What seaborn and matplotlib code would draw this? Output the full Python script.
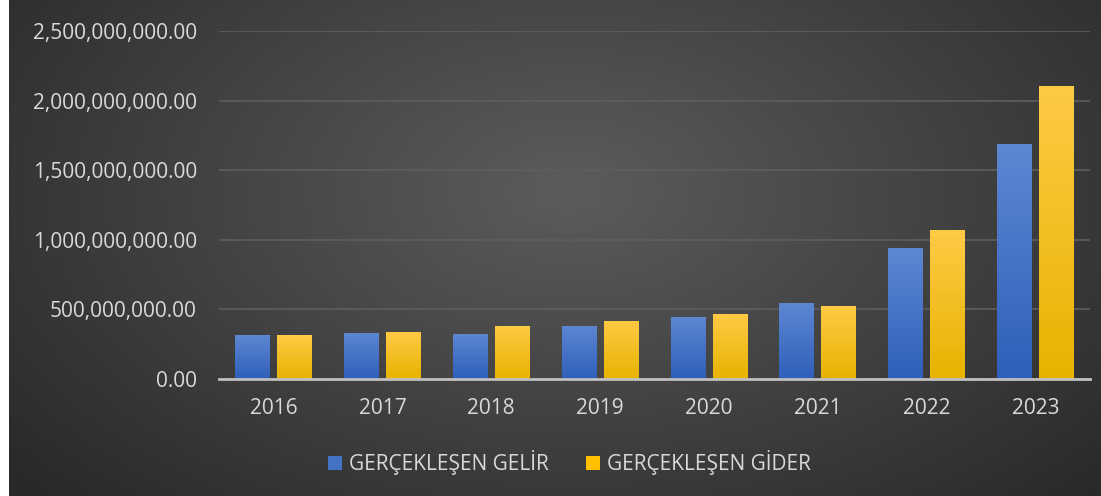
import numpy as np
import pandas as pd
import matplotlib.pyplot as plt
import seaborn as sns
from matplotlib.colors import LinearSegmentedColormap, to_rgb
from matplotlib.patches import Patch
from matplotlib.ticker import FuncFormatter

# veriler (grafikten okunan yaklaşık değerler)
years = ["2016", "2017", "2018", "2019", "2020", "2021", "2022", "2023"]
gelir = [316e6, 333e6, 326e6, 381e6, 445e6, 546e6, 939e6, 1688e6]
gider = [316e6, 338e6, 383e6, 417e6, 467e6, 524e6, 1070e6, 2107e6]
series = ["GERÇEKLEŞEN GELİR", "GERÇEKLEŞEN GİDER"]
colors = ["#4472C4", "#FFC000"]

df = pd.DataFrame({
    "yil": years * 2,
    "tutar": gelir + gider,
    "seri": [series[0]] * len(years) + [series[1]] * len(years),
})

sns.set_theme(style="dark")
plt.rcParams["font.family"] = ["Open Sans", "DejaVu Sans"]

fig = plt.figure(figsize=(11.01, 4.96), dpi=100)
fig.patch.set_facecolor("white")

# arka plan: radyal gri geçiş
bg = fig.add_axes([9 / 1101, 0, 1 - 9 / 1101, 1], zorder=0)
yy, xx = np.mgrid[0:496, 0:1092]
d = np.sqrt(((xx - 560) / 720) ** 2 + ((yy - 190) / 430) ** 2)
bg_cmap = LinearSegmentedColormap.from_list("bg", ["#5c5c5c", "#2a2a2a"])
bg.imshow(d, cmap=bg_cmap, aspect="auto", vmin=0, vmax=1)
bg.axis("off")

ax = fig.add_axes([0.199, 0.236, 0.791, 0.7015], zorder=1)
ax.patch.set_alpha(0)
sns.barplot(data=df, x="yil", y="tutar", hue="seri", palette=colors,
            width=0.77, gap=0.17, legend=False, linewidth=0, edgecolor="none", ax=ax)

ax.set_ylim(0, 2.5e9)
ax.set_xlim(-0.5, len(years) - 0.5)
ax.set_autoscale_on(False)

# çubuklara dikey renk geçişi
grad = np.linspace(1, 0, 100).reshape(-1, 1)
tops = {"#4472C4": ("#5d87d2", "#2f5fba"), "#FFC000": ("#ffca45", "#e8b300")}
for p in list(ax.patches):
    fc = p.get_facecolor()[:3]
    key = min(tops, key=lambda k: sum((a - b) ** 2 for a, b in zip(to_rgb(k), fc)))
    cm = LinearSegmentedColormap.from_list("b", [tops[key][1], tops[key][0]])
    x0, y0 = p.get_xy()
    w, h = p.get_width(), p.get_height()
    im = ax.imshow(grad, cmap=cm, aspect="auto", extent=[x0, x0 + w, y0, y0 + h],
                   zorder=p.get_zorder() + 0.1)
    im.set_clip_path(p)

ax.yaxis.set_major_formatter(FuncFormatter(lambda v, _: f"{v:,.2f}"))
ax.set_yticks(np.arange(0, 2.5e9 + 1, 5e8))
ax.grid(axis="y", color="#5e5e5e", lw=1.2)
ax.grid(axis="x", visible=False)
ax.set_axisbelow(True)
ax.set_xlabel("")
ax.set_ylabel("")
for s in ["top", "right", "left"]:
    ax.spines[s].set_visible(False)
ax.spines["bottom"].set_color("#bfbfbf")
ax.spines["bottom"].set_linewidth(2)
ax.spines["bottom"].set_zorder(5)
ax.tick_params(axis="y", colors="#d9d9d9", labelsize=15, length=0, pad=16)
ax.tick_params(axis="x", colors="#d9d9d9", labelsize=15, length=0, pad=14)

handles = [Patch(facecolor=c, edgecolor="none") for c in colors]
fig.legend(handles, series, loc="center", bbox_to_anchor=(0.517, 0.067), ncol=2,
           frameon=False, fontsize=15, labelcolor="#d9d9d9",
           handlelength=0.7, handleheight=0.7, handletextpad=0.3, columnspacing=1.8)

fig.savefig("out.png", dpi=100)
